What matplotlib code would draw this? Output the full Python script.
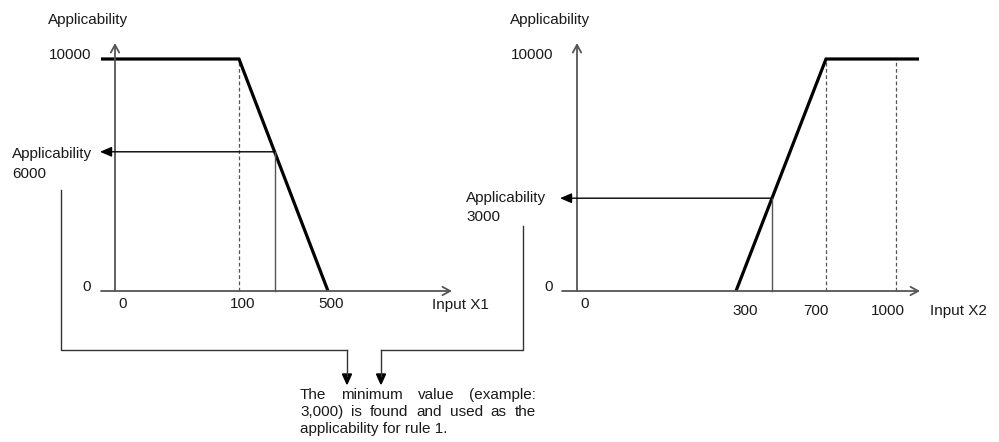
import numpy as np
import matplotlib
matplotlib.use('Agg')
import matplotlib.pyplot as plt

plt.rcParams['font.family'] = ['Liberation Sans', 'DejaVu Sans']
plt.rcParams['font.size'] = 11

# ---- data ----
y_ticks = [0, 10000]
y_tick_labels = ['0', '10000']

x1_ticks = [0, 100, 500]
x1_tick_labels = ['0', '100', '500']
x1_knee_x = [100, 500]        # applicability falls from 10000 to 0
x1_knee_y = [10000, 0]
x1_input = 260

x2_ticks = [0, 300, 700, 1000]
x2_tick_labels = ['0', '300', '700', '1000']
x2_knee_x = [300, 700]        # applicability rises from 0 to 10000
x2_knee_y = [0, 10000]
x2_input = 460

note_lines = ['The minimum value (example:',
              '3,000) is found and used as the',
              'applicability for rule 1.']

# ---- layout (pixels) ----
W, H = 999, 442
Y0, Y1 = 291, 59          # pixel rows of 0 and 10000
AX = '#555555'
TXT = '#1a1a1a'
CON = '#333333'

fig = plt.figure(figsize=(W / 100, H / 100), dpi=100)
fig.patch.set_facecolor('white')


def piecewise(src, dst):
    src = np.asarray(src, float)
    dst = np.asarray(dst, float)
    lo = (dst[1] - dst[0]) / (src[1] - src[0])
    hi = (dst[-1] - dst[-2]) / (src[-1] - src[-2])

    def f(v):
        v = np.asarray(v, float)
        out = np.interp(v, src, dst)
        out = np.where(v < src[0], dst[0] + (v - src[0]) * lo, out)
        out = np.where(v > src[-1], dst[-1] + (v - src[-1]) * hi, out)
        return out
    return f


def make_axes(box, xvals, xpx):
    L, T, R, B = box
    ax = fig.add_axes([L / W, 1 - B / H, (R - L) / W, (B - T) / H])
    fwd = piecewise(xvals, xpx)
    inv = piecewise(xpx, xvals)
    ax.set_xscale('function', functions=(fwd, inv))
    ax.set_xlim(float(inv(L)), float(inv(R)))
    ax.set_ylim((Y0 - B) / (Y0 - Y1) * 10000, (Y0 - T) / (Y0 - Y1) * 10000)
    ax.axis('off')
    return ax, inv


def ypx(p):
    return (Y0 - p) / (Y0 - Y1) * 10000


def draw_chart(ax, inv, ticks, labels, tick_off, knee_x, knee_y, x_in,
               axis_px, ylab_px, input_label, label_px):
    lo, hi = float(inv(axis_px[0])), float(inv(axis_px[1]))
    open_head = dict(arrowstyle='->,head_length=0.55,head_width=0.3',
                     color=AX, lw=1.3, shrinkA=0, shrinkB=0, mutation_scale=10)
    # axes
    ax.annotate('', xy=(hi, 0), xytext=(lo, 0), arrowprops=open_head,
                annotation_clip=False)
    ax.annotate('', xy=(0, ypx(43)), xytext=(0, 0), arrowprops=open_head,
                annotation_clip=False)
    # dashed guides at the knees on the 10000 level
    for xv, yv in zip(knee_x, knee_y):
        if yv == 10000:
            ax.plot([xv, xv], [0, yv], color=AX, lw=0.9, ls=(0, (3, 2)))
    if knee_y[-1] == 10000:
        ax.plot([ticks[-1], ticks[-1]], [0, 10000], color=AX, lw=0.9,
                ls=(0, (3, 2)))
    # membership curve, flat at the ends out to the axis limits
    xs, ys = list(knee_x), list(knee_y)
    if ys[0] == 10000:
        xs, ys = [lo] + xs, [ys[0]] + ys
    if ys[-1] == 10000:
        xs, ys = xs + [float(inv(axis_px[1] - 1))], ys + [ys[-1]]
    ax.plot(xs, ys, color='black', lw=2.3, solid_capstyle='butt',
            solid_joinstyle='miter')
    # example input
    y_in = float(np.interp(x_in, knee_x, knee_y))
    ax.plot([x_in, x_in], [0, y_in], color=AX, lw=1)
    ax.annotate('', xy=(float(inv(label_px)), y_in), xytext=(x_in, y_in),
                arrowprops=dict(arrowstyle='-|>,head_length=0.7,head_width=0.3',
                                color=AX, fc='black', ec='black', lw=1,
                                shrinkA=0, shrinkB=0, mutation_scale=10),
                annotation_clip=False)
    # tick labels
    for t, lab, (dx, dy) in zip(ticks, labels, tick_off):
        ax.annotate(lab, xy=(t, 0), xytext=(dx, -dy), textcoords='offset pixels',
                    ha='center', va='center', color=TXT)
    for t, lab in zip(y_ticks, y_tick_labels):
        ax.annotate(lab, xy=(0, t), xytext=(-24, 4), textcoords='offset pixels',
                    ha='right', va='center', color=TXT)
    ax.annotate(input_label, xy=(hi, 0), xytext=(ylab_px[0], -ylab_px[1]),
                textcoords='offset pixels', ha='left', va='center', color=TXT)
    return y_in


ax1, inv1 = make_axes((40, 10, 480, 340), x1_ticks, [115, 239, 328])
draw_chart(ax1, inv1, x1_ticks, x1_tick_labels,
           [(8, 13), (4, 13), (3, 13)], x1_knee_x, x1_knee_y, x1_input,
           (101, 452), (-20, 14), 'Input X1', 100)

ax2, inv2 = make_axes((500, 10, 990, 340), x2_ticks, [577, 736, 826, 896])
draw_chart(ax2, inv2, x2_ticks, x2_tick_labels,
           [(8, 13), (9, 20), (-10, 20), (-8, 20)], x2_knee_x, x2_knee_y,
           x2_input, (562, 920), (10, 20), 'Input X2', 560)


def ftext(x, y, s, **kw):
    return fig.text(x / W, 1 - y / H, s, va='center', color=TXT, **kw)


ftext(48, 20, 'Applicability')
ftext(510, 20, 'Applicability')
ftext(12, 154, 'Applicability')
ftext(12, 174, '6000')
ftext(466, 198, 'Applicability')
ftext(466, 217, '3000')

# connectors down to the note
fig.add_artist(plt.Line2D(np.array([61, 61, 347]) / W,
                          1 - np.array([190, 350, 350]) / H, color=CON, lw=1))
fig.add_artist(plt.Line2D(np.array([523, 523, 381]) / W,
                          1 - np.array([226, 350, 350]) / H, color=CON, lw=1))
for xc in (347, 381):
    fig.add_artist(plt.Line2D([xc / W, xc / W], [1 - 350 / H, 1 - 376 / H],
                              color=CON, lw=1))
    fig.patches.append(plt.Polygon([[(xc - 4.5) / W, 1 - 374 / H],
                                    [(xc + 4.5) / W, 1 - 374 / H],
                                    [xc / W, 1 - 384 / H]],
                                   closed=True, color='black',
                                   transform=fig.transFigure, figure=fig))

# justified note
renderer = fig.canvas.get_renderer()
x_left, x_right = 300, 536
for i, line in enumerate(note_lines):
    yy = 395 + i * 17
    words = line.split(' ')
    if i == len(note_lines) - 1:
        ftext(x_left, yy, line)
        continue
    objs = [ftext(x_left, yy, w) for w in words]
    widths = [o.get_window_extent(renderer).width for o in objs]
    gap = (x_right - x_left - sum(widths)) / (len(words) - 1)
    xx = x_left
    for o, wd in zip(objs, widths):
        o.set_x(xx / W)
        xx += wd + gap

fig.savefig('out.png', dpi=100, facecolor='white')
